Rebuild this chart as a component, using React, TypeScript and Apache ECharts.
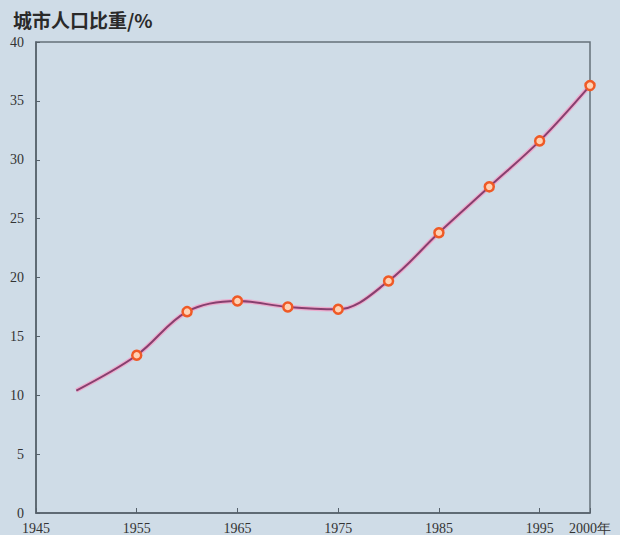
import React, { useEffect, useRef } from "react";
import * as echarts from "echarts";

const years = [1949, 1955, 1960, 1965, 1970, 1975, 1980, 1985, 1990, 1995, 2000];
const urbanShare = [10.4, 13.4, 17.1, 18.0, 17.5, 17.3, 19.7, 23.8, 27.7, 31.6, 36.3];
const markedFrom = 1955;
const yTicks = [0, 5, 10, 15, 20, 25, 30, 35, 40];
const title = "城市人口比重/%";

export default function App() {
  const ref = useRef<HTMLDivElement>(null);
  useEffect(() => {
    document.body.style.margin = "0";
    const chart = echarts.init(ref.current!, undefined, { renderer: "svg" });
    const pts = years.map((y, i) => [y, urbanShare[i]]);
    chart.setOption({
      animation: false,
      backgroundColor: "#cfdce7",
      title: {
        text: title,
        left: 8,
        top: 5,
        textStyle: {
          fontFamily: "Noto Sans CJK SC",
          fontWeight: "bold",
          fontSize: 19,
          color: "#2a2a2a",
        },
      },
      grid: {
        left: 36,
        right: 30,
        top: 42,
        bottom: 20,
        show: true,
        borderColor: "#66707a",
        borderWidth: 1.5,
        backgroundColor: "transparent",
      },
      xAxis: {
        type: "value",
        min: 1945,
        max: 2000,
        interval: 10,
        splitLine: { show: false },
        axisLine: { lineStyle: { color: "#55606a", width: 1.5 } },
        axisTick: { show: true, inside: true, length: 5, lineStyle: { color: "#55606a" } },
        axisLabel: {
          fontFamily: "Liberation Serif",
          fontSize: 14,
          color: "#333",
          margin: 8,
          showMinLabel: true,
          showMaxLabel: true,
          formatter: (v: number) => (v === 2000 ? "2000年" : String(v)),
        },
      },
      yAxis: {
        type: "value",
        min: yTicks[0],
        max: yTicks[yTicks.length - 1],
        interval: 5,
        splitLine: { show: false },
        axisLine: { show: true, lineStyle: { color: "#55606a", width: 1.5 } },
        axisTick: { show: true, inside: true, length: 4, lineStyle: { color: "#55606a" } },
        axisLabel: {
          fontFamily: "Liberation Serif",
          fontSize: 14,
          color: "#333",
          margin: 12,
        },
      },
      series: [
        {
          type: "line",
          data: pts,
          smooth: 0.35,
          showSymbol: false,
          lineStyle: { color: "rgba(242,160,200,0.8)", width: 4.5 },
          z: 2,
        },
        {
          type: "line",
          data: pts,
          smooth: 0.35,
          symbol: "circle",
          symbolSize: (val: number[]) => (val[0] >= markedFrom ? 9 : 0),
          itemStyle: { color: "#ffd2b4", borderColor: "#ef5a26", borderWidth: 2.5 },
          lineStyle: { color: "#873f6e", width: 2 },
          z: 3,
        },
      ],
    });
    return () => chart.dispose();
  }, []);
  return (
    <div
      ref={ref}
      style={{ position: "fixed", left: 0, top: 0, width: 620, height: 535 }}
    />
  );
}
